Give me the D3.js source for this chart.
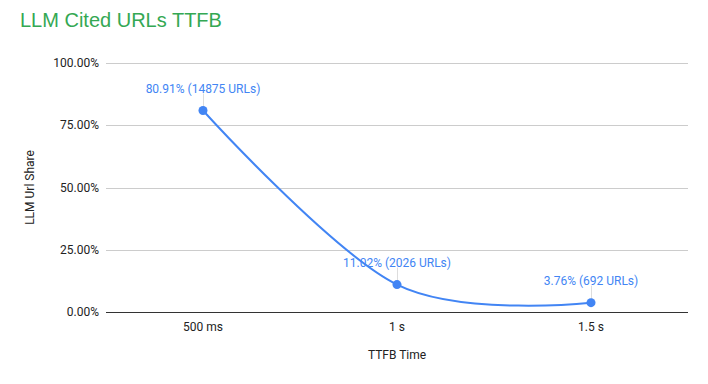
<!DOCTYPE html>
<html>
<head>
<meta charset="utf-8">
<script src="https://cdn.jsdelivr.net/npm/d3@7"></script>
<style>
  body { margin: 0; background: #fff; }
  text { font-family: Roboto, Arial, sans-serif; }
</style>
</head>
<body>
<div id="chart"></div>
<script>
// chart data
const categories = ["500 ms", "1 s", "1.5 s"];
const shares = [80.91, 11.02, 3.76];
const urlCounts = [14875, 2026, 692];
const yTicks = [0, 25, 50, 75, 100];

const width = 708,
      height = 384,
      margin = {top: 63, bottom: 72, left: 106, right: 20};

const svg = d3.select("#chart")
  .append("svg")
  .attr("width", width)
  .attr("height", height);

const xScale = d3.scaleBand()
  .domain(categories)
  .range([margin.left, width - margin.right]);

const yScale = d3.scaleLinear()
  .domain([0, 100])
  .range([height - margin.bottom, margin.top]);

// title
svg.append("text")
  .attr("x", 20)
  .attr("y", 27)
  .attr("fill", "#34a853")
  .style("font-family", "'Liberation Sans', Arial, sans-serif")
  .style("font-size", "20px")
  .text("LLM Cited URLs TTFB");

// gridlines + y tick labels
svg.selectAll(".grid")
  .data(yTicks)
  .enter()
  .append("line")
  .attr("x1", margin.left)
  .attr("x2", width - margin.right)
  .attr("y1", d => Math.round(yScale(d)) + 0.5)
  .attr("y2", d => Math.round(yScale(d)) + 0.5)
  .attr("stroke", d => d === 0 ? "#333" : "#ccc")
  .attr("stroke-width", 1);

svg.selectAll(".ytick")
  .data(yTicks)
  .enter()
  .append("text")
  .attr("x", margin.left - 7)
  .attr("y", d => yScale(d) + 4)
  .attr("text-anchor", "end")
  .attr("fill", "#222")
  .style("font-size", "12px")
  .text(d => d.toFixed(2) + "%");

// x tick labels
svg.selectAll(".xtick")
  .data(categories)
  .enter()
  .append("text")
  .attr("x", d => xScale(d) + xScale.bandwidth() / 2)
  .attr("y", yScale(0) + 19)
  .attr("text-anchor", "middle")
  .attr("fill", "#222")
  .style("font-size", "12px")
  .text(d => d);

// axis titles
svg.append("text")
  .attr("x", (margin.left + width - margin.right) / 2)
  .attr("y", 359)
  .attr("text-anchor", "middle")
  .attr("fill", "#222")
  .style("font-size", "12px")
  .text("TTFB Time");

svg.append("text")
  .attr("transform", "translate(34," + yScale(50) + ") rotate(-90)")
  .attr("text-anchor", "middle")
  .attr("fill", "#222")
  .style("font-size", "12px")
  .text("LLM Url Share");

const points = categories.map((c, i) => ({cat: c, value: shares[i], count: urlCounts[i]}));
const cx = d => xScale(d.cat) + xScale.bandwidth() / 2;

// smooth line
svg.append("path")
  .datum(points)
  .attr("fill", "none")
  .attr("stroke", "#4285f4")
  .attr("stroke-width", 2)
  .attr("d", d3.line()
    .x(cx)
    .y(d => yScale(d.value))
    .curve(d3.curveCardinal.tension(0)));

// leader lines
svg.selectAll(".leader")
  .data(points)
  .enter()
  .append("line")
  .attr("x1", d => Math.round(cx(d)) + 0.5)
  .attr("x2", d => Math.round(cx(d)) + 0.5)
  .attr("y1", d => yScale(d.value) - 17)
  .attr("y2", d => yScale(d.value))
  .attr("stroke", "#ddd");

svg.selectAll(".dot")
  .data(points)
  .enter()
  .append("circle")
  .attr("cx", cx)
  .attr("cy", d => yScale(d.value))
  .attr("r", 4.5)
  .attr("fill", "#4285f4");

// data labels
svg.selectAll(".label")
  .data(points)
  .enter()
  .append("text")
  .attr("x", cx)
  .attr("y", d => yScale(d.value) - 18)
  .attr("text-anchor", "middle")
  .attr("fill", "#4285f4")
  .style("font-size", "12px")
  .text(d => d.value.toFixed(2) + "% (" + d.count + " URLs)");
</script>
</body>
</html>
